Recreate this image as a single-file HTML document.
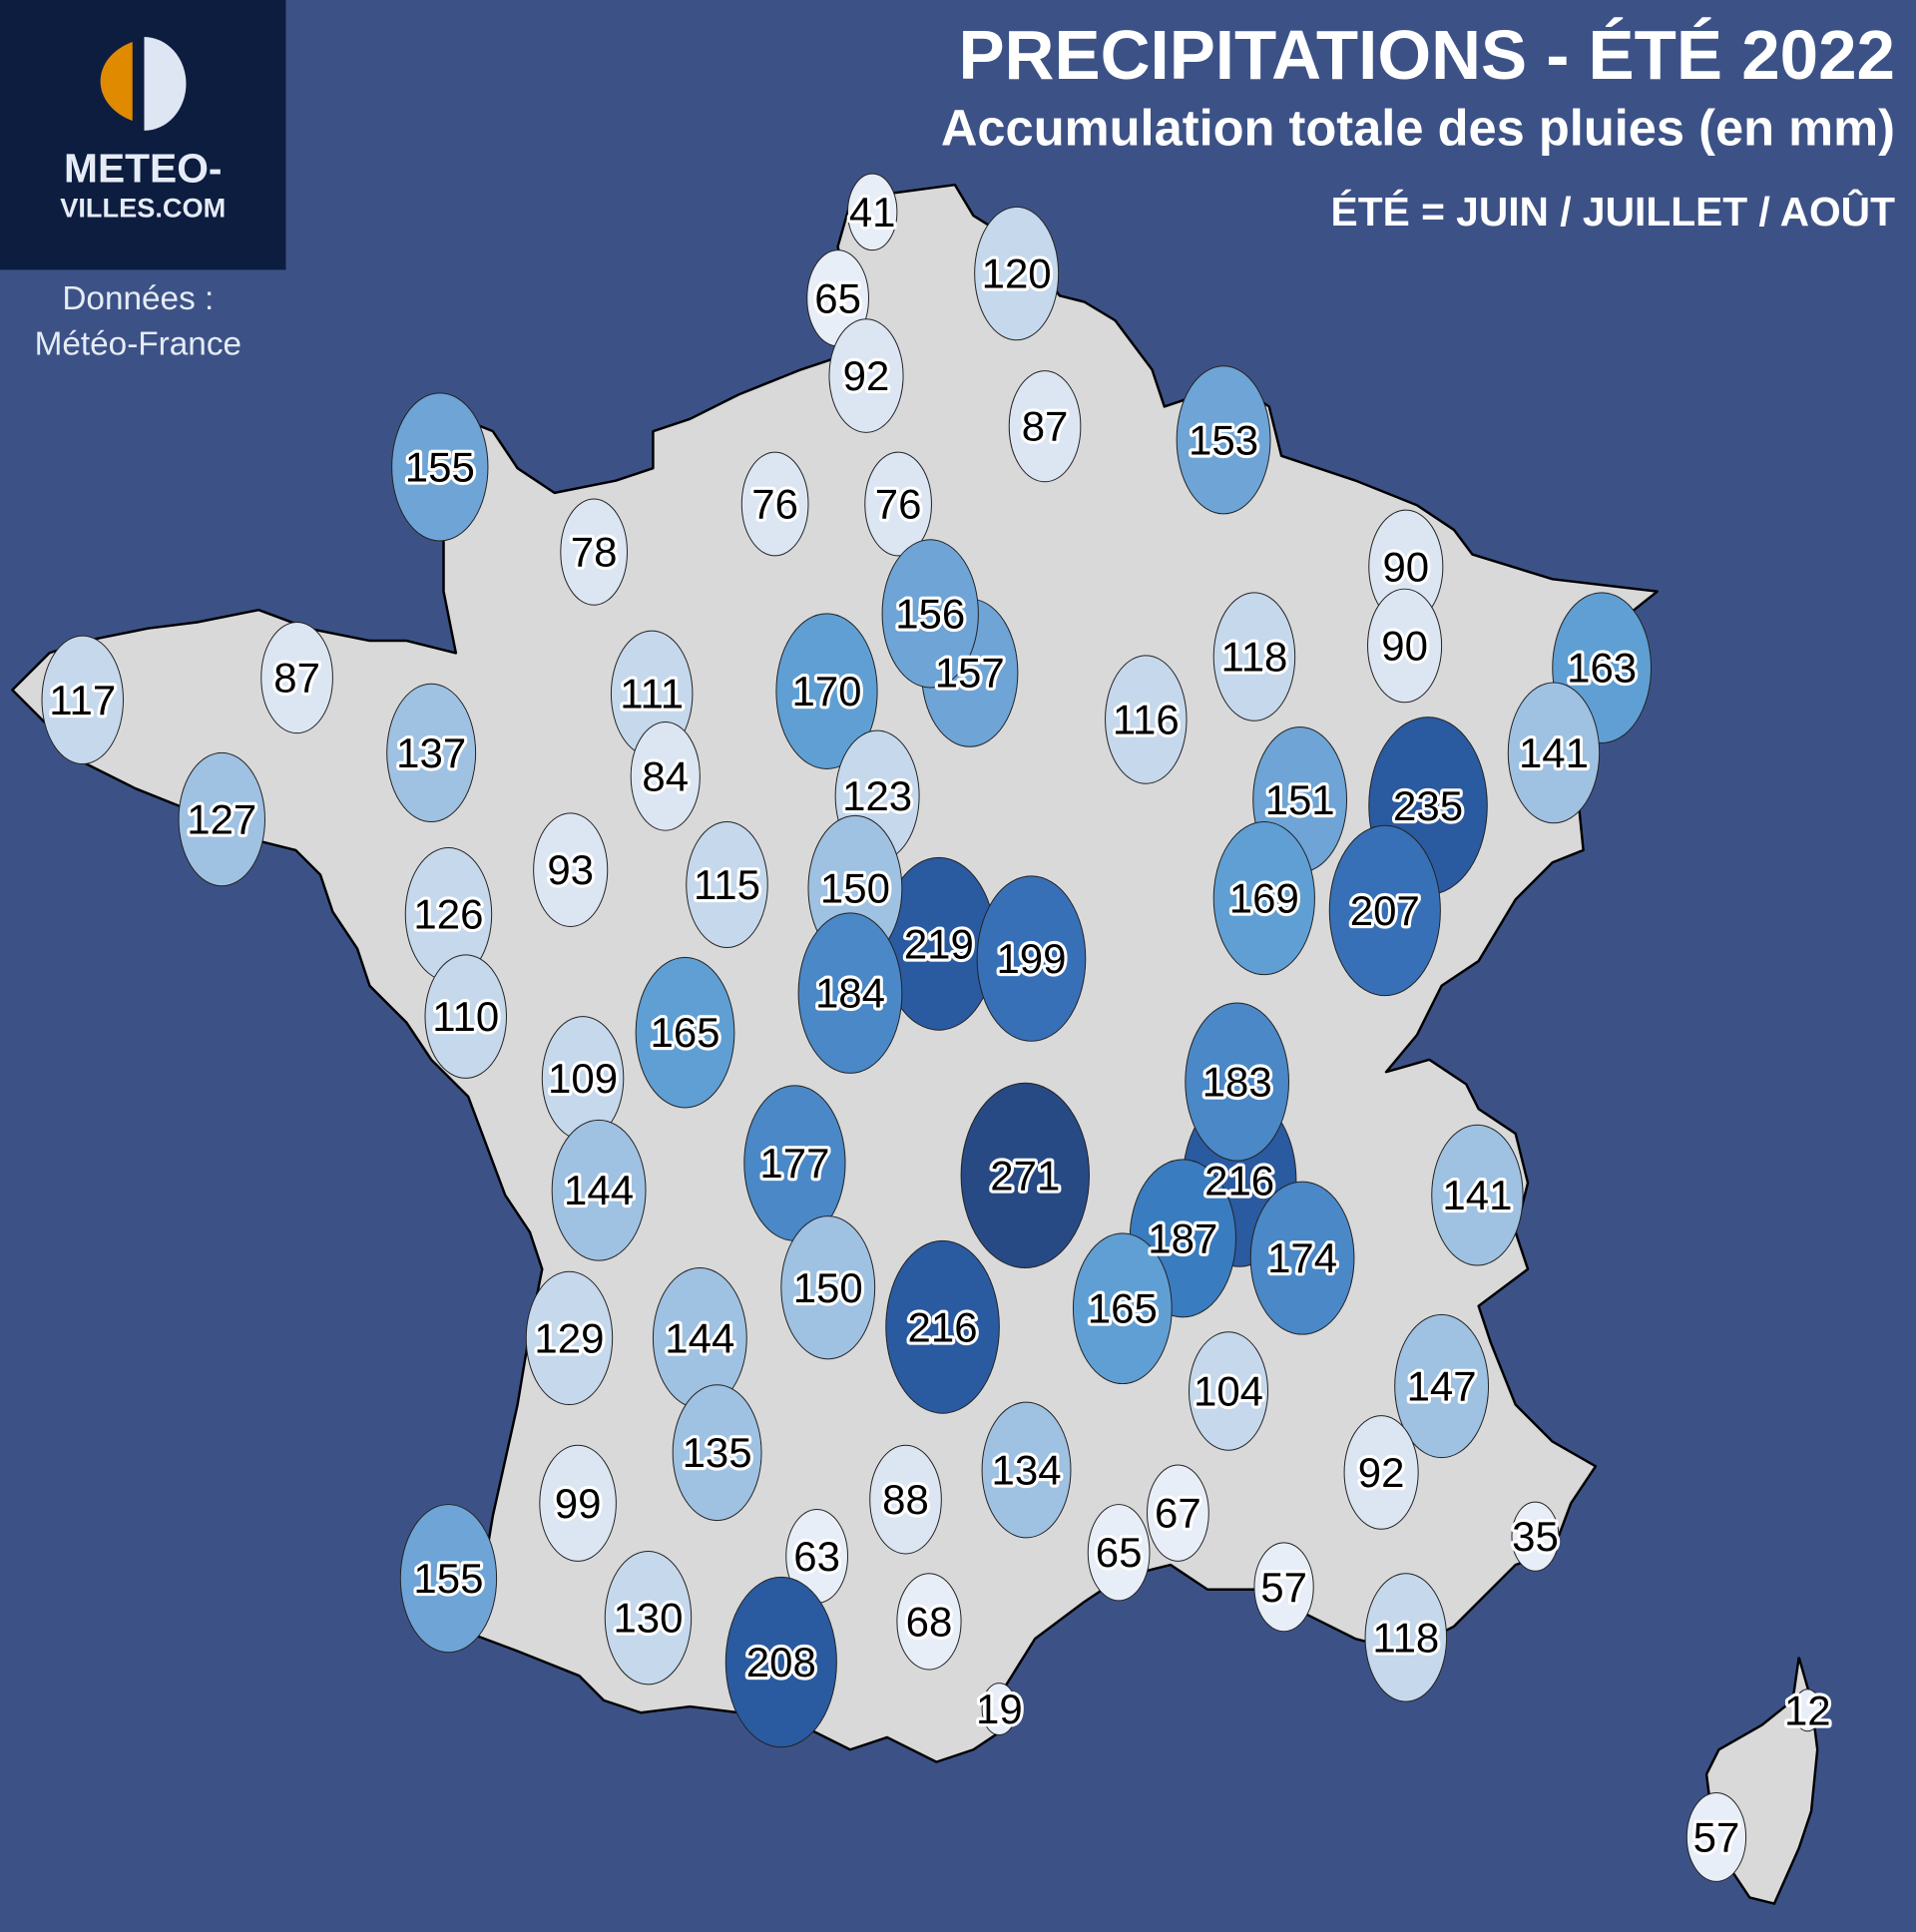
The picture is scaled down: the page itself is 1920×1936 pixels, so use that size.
<!DOCTYPE html>
<html><head><meta charset="utf-8"><style>
html,body{margin:0;padding:0;background:#3c5287;}
svg{display:block;}
.b{stroke:#222;stroke-width:0.8;}
.t{font-family:"Liberation Sans",sans-serif;font-size:34px;fill:#000;stroke:#fff;stroke-width:5px;paint-order:stroke;stroke-linejoin:round;text-anchor:middle;dominant-baseline:central;}
</style></head><body>
<svg width="1920" height="1936" viewBox="0 0 1555 1568" xmlns="http://www.w3.org/2000/svg">
<rect width="1555" height="1568" fill="#3c5287"/>
<rect x="0" y="0" width="232" height="219" fill="#0c1d40"/>
<path d="M113,34 A35,35 0 0 0 113,98 Z" fill="#e08a00" transform="translate(-30,0) scale(1.25,1) translate(-3,0)"/>
<path d="M117,30 A34,38 0 0 1 117,106 Z" fill="#dde6f2"/>
<text x="116" y="148" font-family="Liberation Sans,sans-serif" font-weight="bold" font-size="33" fill="#e6ecf5" text-anchor="middle">METEO-</text>
<text x="116" y="176" font-family="Liberation Sans,sans-serif" font-weight="bold" font-size="22" fill="#e6ecf5" text-anchor="middle">VILLES.COM</text>
<text x="112" y="251" font-family="Liberation Sans,sans-serif" font-size="27" fill="#e6ecf5" text-anchor="middle">Données :</text>
<text x="112" y="288" font-family="Liberation Sans,sans-serif" font-size="27" fill="#e6ecf5" text-anchor="middle">Météo-France</text>
<text x="1538" y="64" font-family="Liberation Sans,sans-serif" font-weight="bold" font-size="56" fill="#fff" text-anchor="end">PRECIPITATIONS - ÉTÉ 2022</text>
<text x="1538" y="118" font-family="Liberation Sans,sans-serif" font-weight="bold" font-size="41" fill="#fff" text-anchor="end">Accumulation totale des pluies (en mm)</text>
<text x="1538" y="183" font-family="Liberation Sans,sans-serif" font-weight="bold" font-size="33" fill="#fff" text-anchor="end">ÉTÉ = JUIN / JUILLET / AOÛT</text>
<path fill="#d9d9d9" stroke="#000" stroke-width="2" stroke-linejoin="round" d="M690,165 L700,160 L775,150 L790,175 L830,200 L860,240 L880,245 L905,260 L935,300 L945,330 L975,320 L1000,310 L1030,330 L1040,370 L1100,390 L1150,410 L1180,430 L1195,450 L1260,470 L1345,480 L1320,500 L1300,560 L1290,600 L1280,640 L1285,690 L1260,700 L1230,730 L1200,780 L1170,800 L1150,840 L1125,870 L1160,860 L1190,880 L1200,900 L1230,920 L1240,960 L1230,1000 L1240,1030 L1200,1060 L1210,1090 L1230,1140 L1260,1170 L1295,1190 L1275,1220 L1260,1260 L1230,1270 L1210,1290 L1180,1320 L1140,1340 L1100,1330 L1060,1310 L1020,1290 L980,1290 L950,1270 L910,1280 L880,1300 L840,1330 L815,1370 L820,1400 L790,1420 L760,1430 L720,1410 L690,1420 L650,1400 L600,1390 L560,1385 L520,1390 L490,1380 L470,1360 L420,1340 L380,1325 L390,1290 L400,1230 L420,1140 L430,1080 L440,1030 L430,1000 L410,970 L395,930 L380,890 L350,860 L330,830 L300,800 L290,770 L270,740 L260,710 L240,690 L200,680 L160,660 L110,640 L70,620 L40,590 L10,560 L40,530 L70,520 L120,510 L160,505 L210,495 L250,510 L300,520 L330,520 L370,530 L360,480 L360,440 L355,380 L350,330 L400,350 L420,380 L450,400 L500,390 L530,380 L530,350 L560,340 L600,320 L650,300 L680,290 L690,250 L680,200 Z"/>
<path fill="#d9d9d9" stroke="#000" stroke-width="2" d="M1460,1345 L1470,1380 L1475,1420 L1470,1470 L1460,1500 L1440,1545 L1420,1540 L1400,1510 L1390,1480 L1385,1440 L1395,1420 L1430,1400 L1455,1380 Z"/>
<g class="b">
<ellipse cx="708" cy="172" rx="20" ry="31" fill="#e8eef7"/>
<ellipse cx="825" cy="222" rx="34" ry="54" fill="#c5d8ec"/>
<ellipse cx="680" cy="242" rx="25" ry="39" fill="#e8eef7"/>
<ellipse cx="703" cy="305" rx="30" ry="46" fill="#dce6f3"/>
<ellipse cx="848" cy="346" rx="29" ry="45" fill="#dce6f3"/>
<ellipse cx="993" cy="357" rx="38" ry="60" fill="#6ea4d6"/>
<ellipse cx="357" cy="379" rx="39" ry="60" fill="#6ea4d6"/>
<ellipse cx="629" cy="409" rx="27" ry="42" fill="#dce6f3"/>
<ellipse cx="729" cy="409" rx="27" ry="42" fill="#dce6f3"/>
<ellipse cx="482" cy="448" rx="27" ry="43" fill="#dce6f3"/>
<ellipse cx="1141" cy="460" rx="30" ry="46" fill="#dce6f3"/>
<ellipse cx="1140" cy="524" rx="30" ry="46" fill="#dce6f3"/>
<ellipse cx="1018" cy="533" rx="33" ry="52" fill="#c5d8ec"/>
<ellipse cx="1300" cy="542" rx="40" ry="61" fill="#5f9fd4"/>
<ellipse cx="67" cy="568" rx="33" ry="52" fill="#c5d8ec"/>
<ellipse cx="241" cy="550" rx="29" ry="45" fill="#dce6f3"/>
<ellipse cx="529" cy="563" rx="33" ry="51" fill="#c5d8ec"/>
<ellipse cx="671" cy="561" rx="41" ry="63" fill="#5f9fd4"/>
<ellipse cx="787" cy="546" rx="39" ry="60" fill="#6ea4d6"/>
<ellipse cx="755" cy="498" rx="39" ry="60" fill="#6ea4d6"/>
<ellipse cx="930" cy="584" rx="33" ry="52" fill="#c5d8ec"/>
<ellipse cx="1261" cy="611" rx="37" ry="57" fill="#9fc1e2"/>
<ellipse cx="350" cy="611" rx="36" ry="56" fill="#9fc1e2"/>
<ellipse cx="540" cy="630" rx="28" ry="44" fill="#dce6f3"/>
<ellipse cx="712" cy="646" rx="34" ry="53" fill="#c5d8ec"/>
<ellipse cx="1159" cy="654" rx="48" ry="72" fill="#2a5aa0"/>
<ellipse cx="1055" cy="649" rx="38" ry="59" fill="#6ea4d6"/>
<ellipse cx="180" cy="665" rx="35" ry="54" fill="#9fc1e2"/>
<ellipse cx="463" cy="706" rx="30" ry="46" fill="#dce6f3"/>
<ellipse cx="590" cy="718" rx="33" ry="51" fill="#c5d8ec"/>
<ellipse cx="1026" cy="729" rx="41" ry="62" fill="#5f9fd4"/>
<ellipse cx="1124" cy="739" rx="45" ry="69" fill="#3870b8"/>
<ellipse cx="364" cy="742" rx="35" ry="54" fill="#c5d8ec"/>
<ellipse cx="762" cy="766" rx="46" ry="70" fill="#2a5aa0"/>
<ellipse cx="694" cy="721" rx="38" ry="59" fill="#9fc1e2"/>
<ellipse cx="690" cy="806" rx="42" ry="65" fill="#4a88c7"/>
<ellipse cx="837" cy="778" rx="44" ry="67" fill="#3870b8"/>
<ellipse cx="378" cy="825" rx="33" ry="50" fill="#c5d8ec"/>
<ellipse cx="556" cy="838" rx="40" ry="61" fill="#5f9fd4"/>
<ellipse cx="473" cy="875" rx="33" ry="50" fill="#c5d8ec"/>
<ellipse cx="1006" cy="958" rx="46" ry="70" fill="#2a5aa0"/>
<ellipse cx="1004" cy="878" rx="42" ry="64" fill="#4a88c7"/>
<ellipse cx="645" cy="944" rx="41" ry="63" fill="#4a88c7"/>
<ellipse cx="832" cy="954" rx="52" ry="75" fill="#274a85"/>
<ellipse cx="1199" cy="970" rx="37" ry="57" fill="#9fc1e2"/>
<ellipse cx="486" cy="966" rx="38" ry="57" fill="#9fc1e2"/>
<ellipse cx="960" cy="1005" rx="43" ry="64" fill="#3a7cc0"/>
<ellipse cx="1057" cy="1021" rx="42" ry="62" fill="#4a88c7"/>
<ellipse cx="672" cy="1045" rx="38" ry="58" fill="#9fc1e2"/>
<ellipse cx="765" cy="1077" rx="46" ry="70" fill="#2a5aa0"/>
<ellipse cx="911" cy="1062" rx="40" ry="61" fill="#5f9fd4"/>
<ellipse cx="462" cy="1086" rx="35" ry="54" fill="#c5d8ec"/>
<ellipse cx="568" cy="1086" rx="38" ry="57" fill="#9fc1e2"/>
<ellipse cx="997" cy="1129" rx="32" ry="48" fill="#c5d8ec"/>
<ellipse cx="1170" cy="1125" rx="38" ry="58" fill="#9fc1e2"/>
<ellipse cx="582" cy="1179" rx="36" ry="55" fill="#9fc1e2"/>
<ellipse cx="833" cy="1193" rx="36" ry="55" fill="#9fc1e2"/>
<ellipse cx="1121" cy="1195" rx="30" ry="46" fill="#dce6f3"/>
<ellipse cx="469" cy="1220" rx="31" ry="47" fill="#dce6f3"/>
<ellipse cx="735" cy="1217" rx="29" ry="44" fill="#dce6f3"/>
<ellipse cx="956" cy="1228" rx="25" ry="39" fill="#e8eef7"/>
<ellipse cx="1246" cy="1247" rx="19" ry="28" fill="#e8eef7"/>
<ellipse cx="364" cy="1281" rx="39" ry="60" fill="#6ea4d6"/>
<ellipse cx="663" cy="1263" rx="25" ry="38" fill="#e8eef7"/>
<ellipse cx="908" cy="1260" rx="25" ry="39" fill="#e8eef7"/>
<ellipse cx="1042" cy="1288" rx="24" ry="36" fill="#e8eef7"/>
<ellipse cx="526" cy="1313" rx="35" ry="54" fill="#c5d8ec"/>
<ellipse cx="754" cy="1316" rx="26" ry="39" fill="#e8eef7"/>
<ellipse cx="634" cy="1349" rx="45" ry="69" fill="#2a5aa0"/>
<ellipse cx="1141" cy="1329" rx="33" ry="52" fill="#c5d8ec"/>
<ellipse cx="811" cy="1387" rx="14" ry="21" fill="#e8eef7"/>
<ellipse cx="1467" cy="1388" rx="11" ry="17" fill="#e8eef7"/>
<ellipse cx="1393" cy="1491" rx="24" ry="36" fill="#e8eef7"/>
</g>
<g class="t">
<text x="708" y="172">41</text><text x="825" y="222">120</text><text x="680" y="242">65</text><text x="703" y="305">92</text>
<text x="848" y="346">87</text><text x="993" y="357">153</text><text x="357" y="379">155</text><text x="629" y="409">76</text>
<text x="729" y="409">76</text><text x="482" y="448">78</text><text x="1141" y="460">90</text><text x="1140" y="524">90</text>
<text x="755" y="498">156</text><text x="1018" y="533">118</text><text x="1300" y="542">163</text><text x="67" y="568">117</text>
<text x="241" y="550">87</text><text x="529" y="563">111</text><text x="671" y="561">170</text><text x="787" y="546">157</text>
<text x="930" y="584">116</text><text x="1261" y="611">141</text><text x="350" y="611">137</text><text x="540" y="630">84</text>
<text x="712" y="646">123</text><text x="1055" y="649">151</text><text x="1159" y="654">235</text><text x="180" y="665">127</text>
<text x="463" y="706">93</text><text x="590" y="718">115</text><text x="694" y="721">150</text><text x="1026" y="729">169</text>
<text x="1124" y="739">207</text><text x="364" y="742">126</text><text x="762" y="766">219</text><text x="837" y="778">199</text>
<text x="690" y="806">184</text><text x="378" y="825">110</text><text x="556" y="838">165</text><text x="473" y="875">109</text>
<text x="1004" y="878">183</text><text x="645" y="944">177</text><text x="832" y="954">271</text><text x="1006" y="958">216</text>
<text x="1199" y="970">141</text><text x="486" y="966">144</text><text x="960" y="1005">187</text><text x="1057" y="1021">174</text>
<text x="672" y="1045">150</text><text x="765" y="1077">216</text><text x="911" y="1062">165</text><text x="462" y="1086">129</text>
<text x="568" y="1086">144</text><text x="997" y="1129">104</text><text x="1170" y="1125">147</text><text x="582" y="1179">135</text>
<text x="833" y="1193">134</text><text x="1121" y="1195">92</text><text x="469" y="1220">99</text><text x="735" y="1217">88</text>
<text x="956" y="1228">67</text><text x="1246" y="1247">35</text><text x="364" y="1281">155</text><text x="663" y="1263">63</text>
<text x="908" y="1260">65</text><text x="1042" y="1288">57</text><text x="526" y="1313">130</text><text x="754" y="1316">68</text>
<text x="634" y="1349">208</text><text x="1141" y="1329">118</text><text x="811" y="1387">19</text><text x="1467" y="1388">12</text>
<text x="1393" y="1491">57</text>
</g>
</svg>
</body></html>
